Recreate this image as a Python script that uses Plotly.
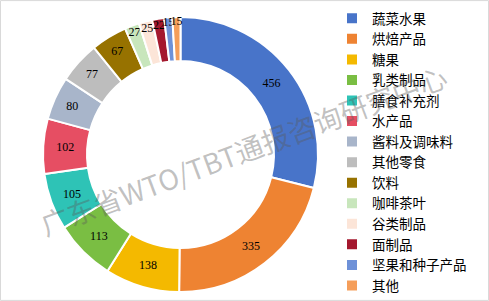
import plotly.graph_objects as go

categories = ["蔬菜水果", "烘焙产品", "糖果", "乳类制品", "膳食补充剂", "水产品",
              "酱料及调味料", "其他零食", "饮料", "咖啡茶叶", "谷类制品", "面制品",
              "坚果和种子产品", "其他"]
values = [456, 335, 138, 113, 105, 102, 80, 77, 67, 27, 25, 22, 15, 15]
colors = ["#4874C9", "#EE8332", "#F4B900", "#7ABE43", "#2EC3B6", "#E64E63",
          "#A8B5CA", "#BDBDBD", "#977200", "#C8E6BC", "#FCE5D8", "#A4182E",
          "#6E91D8", "#F59E5A"]
watermark = "广东省WTO/TBT通报咨询研究中心"

W, H = 489, 301
cx, cy, r_out = 180.5, 154.5, 137.5

fig = go.Figure(go.Pie(
    labels=categories,
    values=values,
    marker=dict(colors=colors, line=dict(color="white", width=2)),
    hole=0.68,
    sort=False,
    direction="clockwise",
    rotation=0,
    textinfo="value",
    textposition="inside",
    insidetextorientation="horizontal",
    textfont=dict(family="Liberation Serif", size=12, color="black"),
    domain=dict(x=[(cx - r_out) / W, (cx + r_out) / W],
                y=[(H - cy - r_out) / H, (H - cy + r_out) / H]),
    hoverinfo="label+value",
))

fig.update_layout(
    width=W, height=H,
    margin=dict(l=0, r=0, t=0, b=0),
    paper_bgcolor="white",
    uniformtext=dict(minsize=12, mode="show"),
    showlegend=True,
    legend=dict(x=332 / W, xanchor="left", y=1 - 4 / H, yanchor="top",
                font=dict(family="Noto Sans CJK SC", size=13.5, color="black"),
                bgcolor="rgba(255,255,255,0)", borderwidth=0),
    annotations=[dict(text=watermark, x=243 / W, y=(H - 150) / H,
                      xref="paper", yref="paper", showarrow=False,
                      textangle=-20.5,
                      font=dict(family="Noto Sans CJK SC", size=28,
                                color="rgba(90,90,90,0.38)"))],
    shapes=[dict(type="rect", xref="paper", yref="paper",
                 x0=0.001, x1=0.999, y0=0.002, y1=0.998,
                 line=dict(color="#D9D9D9", width=1))],
)

fig.write_html("out.html")
